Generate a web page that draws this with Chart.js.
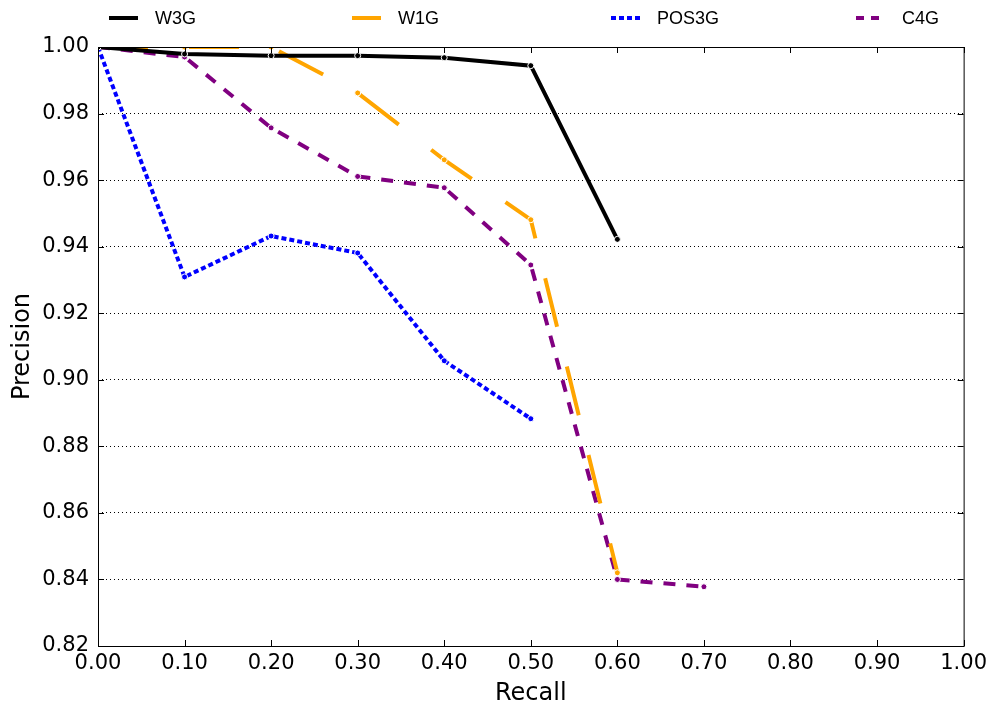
<!DOCTYPE html>
<html>
<head>
<meta charset="utf-8">
<script src="https://cdn.jsdelivr.net/npm/chart.js@4/dist/chart.umd.min.js"></script>
<style>
html,body{margin:0;padding:0;background:#fff;}
#wrap{width:992px;height:703px;}
</style>
</head>
<body>
<div id="wrap"><canvas id="c" width="992" height="703"></canvas></div>
<script>
// ---- data ----
const recallW3G   = [0.0, 0.1, 0.2, 0.3, 0.4, 0.5, 0.6];
const precW3G     = [1.0, 0.9979, 0.9974, 0.9974, 0.9968, 0.9944, 0.9422];
const recallW1G   = [0.0, 0.1, 0.2, 0.3, 0.4, 0.5, 0.6];
const precW1G     = [1.0, 1.0, 1.0, 0.9862, 0.9661, 0.9481, 0.8420];
const recallPOS3G = [0.0, 0.1, 0.2, 0.3, 0.4, 0.5];
const precPOS3G   = [1.0, 0.9309, 0.9432, 0.9381, 0.9057, 0.8883];
const recallC4G   = [0.0, 0.1, 0.2, 0.3, 0.4, 0.5, 0.6, 0.7];
const precC4G     = [1.0, 0.9970, 0.9757, 0.9611, 0.9577, 0.9345, 0.8400, 0.8378];
const seriesNames = ["W3G", "W1G", "POS3G", "C4G"];
const xTickMin = 0, xTickMax = 1.0, xTickStep = 0.1;
const yTickMin = 0.82, yTickMax = 1.00, yTickStep = 0.02;

const pts = (xs, ys) => xs.map((x, i) => ({x: x, y: ys[i]}));

function ds(label, xs, ys, color, dash, width) {
  return {
    label: label,
    data: pts(xs, ys),
    borderColor: color,
    backgroundColor: color,
    borderWidth: width,
    borderDash: dash,
    pointRadius: 3,
    pointHoverRadius: 3,
    pointBackgroundColor: color,
    pointBorderColor: '#ffffff',
    pointBorderWidth: 1,
    tension: 0,
    fill: false
  };
}

const legendPos = [109, 352, 611, 856];

const framePlugin = {
  id: 'frame',
  afterDraw(chart) {
    const ctx = chart.ctx;
    const a = chart.chartArea;
    const xs = chart.scales.x, ys = chart.scales.y;
    ctx.save();
    ctx.strokeStyle = '#000';
    ctx.lineWidth = 1;
    ctx.setLineDash([]);
    ctx.strokeRect(a.left + 0.5, a.top + 0.5, a.right - a.left, a.bottom - a.top);
    // inward ticks
    ctx.beginPath();
    xs.ticks.forEach(t => {
      const px = Math.round(xs.getPixelForValue(t.value)) + 0.5;
      ctx.moveTo(px, a.bottom); ctx.lineTo(px, a.bottom - 6);
      ctx.moveTo(px, a.top); ctx.lineTo(px, a.top + 6);
    });
    ys.ticks.forEach(t => {
      const py = Math.round(ys.getPixelForValue(t.value)) + 0.5;
      ctx.moveTo(a.left, py); ctx.lineTo(a.left + 6, py);
      ctx.moveTo(a.right, py); ctx.lineTo(a.right - 6, py);
    });
    ctx.stroke();
    // legend
    chart.data.datasets.forEach((d, i) => {
      const x0 = legendPos[i], y0 = 18;
      ctx.beginPath();
      ctx.strokeStyle = d.borderColor;
      ctx.lineWidth = d.borderWidth;
      const dash = d.borderDash || [];
      ctx.setLineDash(i === 3 ? [8, 7] : (i === 1 ? [] : dash));
      ctx.moveTo(x0, y0); ctx.lineTo(x0 + 29, y0);
      ctx.stroke();
      ctx.setLineDash([]);
      ctx.fillStyle = '#000';
      ctx.font = '18px "Liberation Sans", Arial, sans-serif';
      ctx.textBaseline = 'middle';
      ctx.textAlign = 'left';
      ctx.fillText(d.label, x0 + 46, y0 + 1);
    });
    ctx.restore();
  }
};

new Chart(document.getElementById('c'), {
  type: 'line',
  data: {
    datasets: [
      ds(seriesNames[0], recallW3G, precW3G, '#000000', [], 4),
      ds(seriesNames[1], recallW1G, precW1G, '#FFA500', [50, 41], 4),
      ds(seriesNames[2], recallPOS3G, precPOS3G, '#0000FF', [5, 3], 4),
      ds(seriesNames[3], recallC4G, precC4G, '#800080', [12, 11], 4)
    ]
  },
  options: {
    responsive: false,
    animation: false,
    devicePixelRatio: 1,
    layout: {padding: {top: 47, right: 28, left: 0, bottom: 0}},
    plugins: {legend: {display: false}, tooltip: {enabled: false}},
    scales: {
      x: {
        type: 'linear',
        min: xTickMin, max: xTickMax,
        afterFit(s) { s.height = 57; },
        border: {display: false},
        grid: {display: false, drawTicks: false},
        ticks: {
          stepSize: xTickStep,
          color: '#000',
          padding: 5,
          maxRotation: 0,
          font: {family: 'DejaVu Sans', size: 21},
          callback: v => Number(v).toFixed(2)
        },
        title: {display: true, text: 'Recall', color: '#000',
          font: {family: 'DejaVu Sans', size: 24}, padding: {top: 0, bottom: -5}}
      },
      y: {
        type: 'linear',
        min: yTickMin, max: yTickMax,
        afterFit(s) { s.width = 98; },
        border: {display: false, dash: [1, 3]},
        grid: {
          drawTicks: false,
          color: ctx => (ctx.tick && (Math.abs(ctx.tick.value - yTickMin) < 1e-6 || Math.abs(ctx.tick.value - yTickMax) < 1e-6)) ? 'rgba(0,0,0,0)' : '#000',
          lineWidth: 1
        },
        ticks: {
          stepSize: yTickStep,
          color: '#000',
          padding: 9,
          font: {family: 'DejaVu Sans', size: 21},
          callback: v => Number(v).toFixed(2)
        },
        title: {display: true, text: 'Precision', color: '#000',
          font: {family: 'DejaVu Sans', size: 24}, padding: {top: 8, bottom: 0}}
      }
    }
  },
  plugins: [framePlugin]
});
</script>
</body>
</html>
